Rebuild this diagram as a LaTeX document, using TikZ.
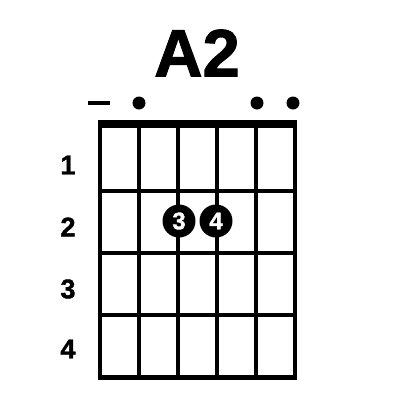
\documentclass[tikz,border=0pt]{standalone}
\usepackage{fontspec}
\setmainfont{Liberation Sans}
\newfontfamily\heavy[BoldFeatures={FakeBold=1.5}]{Liberation Sans}
\begin{document}
\begin{tikzpicture}[x=1pt,y=-1pt,
  gridline/.style={line width=4pt},
  fretnum/.style={font=\heavy\bfseries\fontsize{27}{27}\selectfont},
  finger/.style={circle,fill=black,minimum size=33pt,inner sep=0pt,text=white,font=\heavy\bfseries\fontsize{24}{24}\selectfont},
  opendot/.style={circle,fill=black,minimum size=13pt,inner sep=0pt}]
\useasboundingbox (0,0) rectangle (400,400);
% strings
\foreach \x in {100,139,178,217,256,295} \draw[gridline] (\x,124) -- (\x,379);
% frets
\foreach \y in {191,253,315} \draw[gridline] (98,\y) -- (297,\y);
\draw[line width=5pt] (98,377) -- (297,377);
\draw[line width=8pt] (98,124) -- (297,124);
% title
\node[font=\heavy\bfseries\fontsize{67}{67}\selectfont] (title) at (197,53) {A2};
% markers
\draw[line width=3.5pt] (88,103) coordinate (m1a) -- (110,103) coordinate (m1b);
\node[opendot] (o2) at (139,103) {};
\node[opendot] (o5) at (257,103) {};
\node[opendot] (o6) at (293,103) {};
% fret numbers
\node[fretnum] (f1) at (68,165) {1};
\node[fretnum] (f2) at (68,227) {2};
\node[fretnum] (f3) at (68,289) {3};
\node[fretnum] (f4) at (68,349) {4};
% fingers
\node[finger] (d3) at (179,221) {3};
\node[finger] (d4) at (216,221) {4};
\end{tikzpicture}
\end{document}
